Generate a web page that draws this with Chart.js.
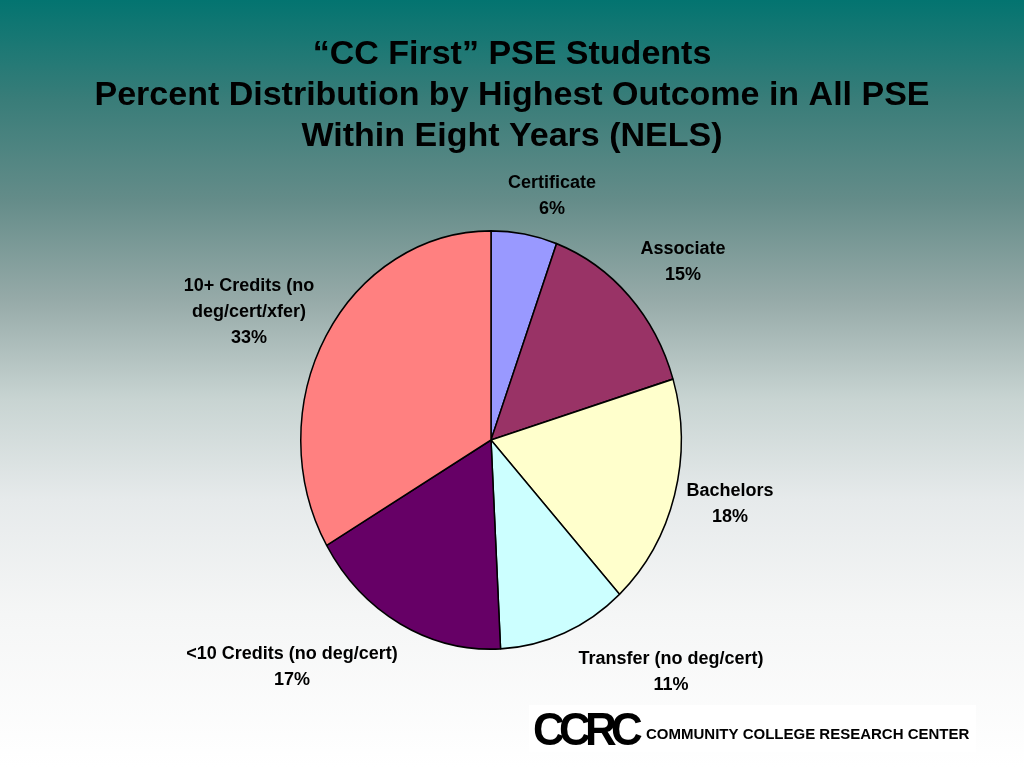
<!DOCTYPE html>
<html>
<head>
<meta charset="utf-8">
<script src="https://cdn.jsdelivr.net/npm/chart.js@4"></script>
<style>
  html, body { margin: 0; padding: 0; background: #ffffff; }
  #wrap { position: relative; width: 1024px; height: 768px; }
</style>
</head>
<body>
<div id="wrap"><canvas id="c"></canvas></div>
<script>
// ---- data ----
const categories = ["Certificate", "Associate", "Bachelors", "Transfer (no deg/cert)", "<10 Credits (no deg/cert)", "10+ Credits (no\ndeg/cert/xfer)"];
const shares = [5.6, 14.7, 17.9, 11.0, 17.4, 33.4];
const percentLabels = ["6%", "15%", "18%", "11%", "17%", "33%"];
const titleLines = ["\u201CCC First\u201D PSE Students", "Percent Distribution by Highest Outcome in All PSE", "Within Eight Years (NELS)"];
const sliceColors = ["#9999FF", "#993366", "#FFFFCC", "#CCFFFF", "#660066", "#FF8080"];

// ---- layout (pie centre 491,440, radius 191, vertical stretch) ----
const PIE = { cx: 491, cy: 440, r: 191, yStretch: 210 / 191 };
// label centres relative to pie centre (first line)
const labelOffsets = [[61, -257], [192, -191], [239, 51], [180, 219], [-199, 214], [-242, -154]];

const bgPlugin = {
  id: 'bg',
  beforeDraw(chart) {
    const ctx = chart.ctx, w = chart.width, h = chart.height;
    const g = ctx.createLinearGradient(0, 0, 0, h);
    g.addColorStop(0.00, '#037470');
    g.addColorStop(0.13, '#397d79');
    g.addColorStop(0.26, '#648c89');
    g.addColorStop(0.39, '#96aaa8');
    g.addColorStop(0.52, '#c8d4d2');
    g.addColorStop(0.65, '#e6eaeb');
    g.addColorStop(0.80, '#f5f6f6');
    g.addColorStop(1.00, '#ffffff');
    ctx.save();
    ctx.fillStyle = g;
    ctx.fillRect(0, 0, w, h);
    ctx.restore();
  }
};

const stretchPlugin = {
  id: 'stretch',
  beforeDatasetsDraw(chart) {
    const ctx = chart.ctx;
    const arc = chart.getDatasetMeta(0).data[0];
    ctx.save();
    ctx.translate(arc.x, arc.y);
    ctx.scale(1, PIE.yStretch);
    ctx.translate(-arc.x, -arc.y);
  },
  afterDatasetsDraw(chart) {
    chart.ctx.restore();
  }
};

const textPlugin = {
  id: 'texts',
  afterDraw(chart) {
    const ctx = chart.ctx;
    const arc0 = chart.getDatasetMeta(0).data[0];
    const cx = arc0.x, cy = arc0.y;
    ctx.save();
    ctx.fillStyle = '#000000';
    ctx.textAlign = 'center';
    ctx.textBaseline = 'middle';
    // title
    ctx.font = 'bold 34px "Liberation Sans", Arial, sans-serif';
    titleLines.forEach((t, i) => ctx.fillText(t, 512, 55 + i * 41));
    // slice labels
    ctx.font = 'bold 18px "Liberation Sans", Arial, sans-serif';
    chart.data.labels.forEach((lab, i) => {
      const lines = lab.split('\n').concat([percentLabels[i]]);
      const [dx, dy] = labelOffsets[i];
      lines.forEach((ln, j) => ctx.fillText(ln, cx + dx, cy + dy + j * 26));
    });
    // logo
    ctx.fillStyle = '#ffffff';
    ctx.fillRect(529, 705, 447, 47);
    ctx.fillStyle = '#000000';
    ctx.textAlign = 'left';
    ctx.textBaseline = 'alphabetic';
    ctx.font = 'bold 46px "Liberation Sans", Arial, sans-serif';
    try { ctx.letterSpacing = '-6px'; } catch (e) {}
    ctx.fillText('CCRC', 533, 745, 104);
    try { ctx.letterSpacing = '0px'; } catch (e) {}
    ctx.font = 'bold 15px "Liberation Sans", Arial, sans-serif';
    ctx.fillText('COMMUNITY COLLEGE RESEARCH CENTER', 646, 739, 326);
    ctx.restore();
  }
};

new Chart(document.getElementById('c'), {
  type: 'pie',
  data: {
    labels: categories,
    datasets: [{
      data: shares,
      backgroundColor: sliceColors,
      borderColor: '#000000',
      borderWidth: 1.5,
      hoverOffset: 0
    }]
  },
  options: {
    responsive: true,
    maintainAspectRatio: false,
    animation: false,
    events: [],
    layout: {
      padding: {
        left: PIE.cx - PIE.r,
        right: 1024 - (PIE.cx + PIE.r),
        top: PIE.cy - PIE.r,
        bottom: 768 - (PIE.cy + PIE.r)
      }
    },
    plugins: {
      legend: { display: false },
      tooltip: { enabled: false },
      title: { display: false }
    }
  },
  plugins: [bgPlugin, stretchPlugin, textPlugin]
});
</script>
</body>
</html>
